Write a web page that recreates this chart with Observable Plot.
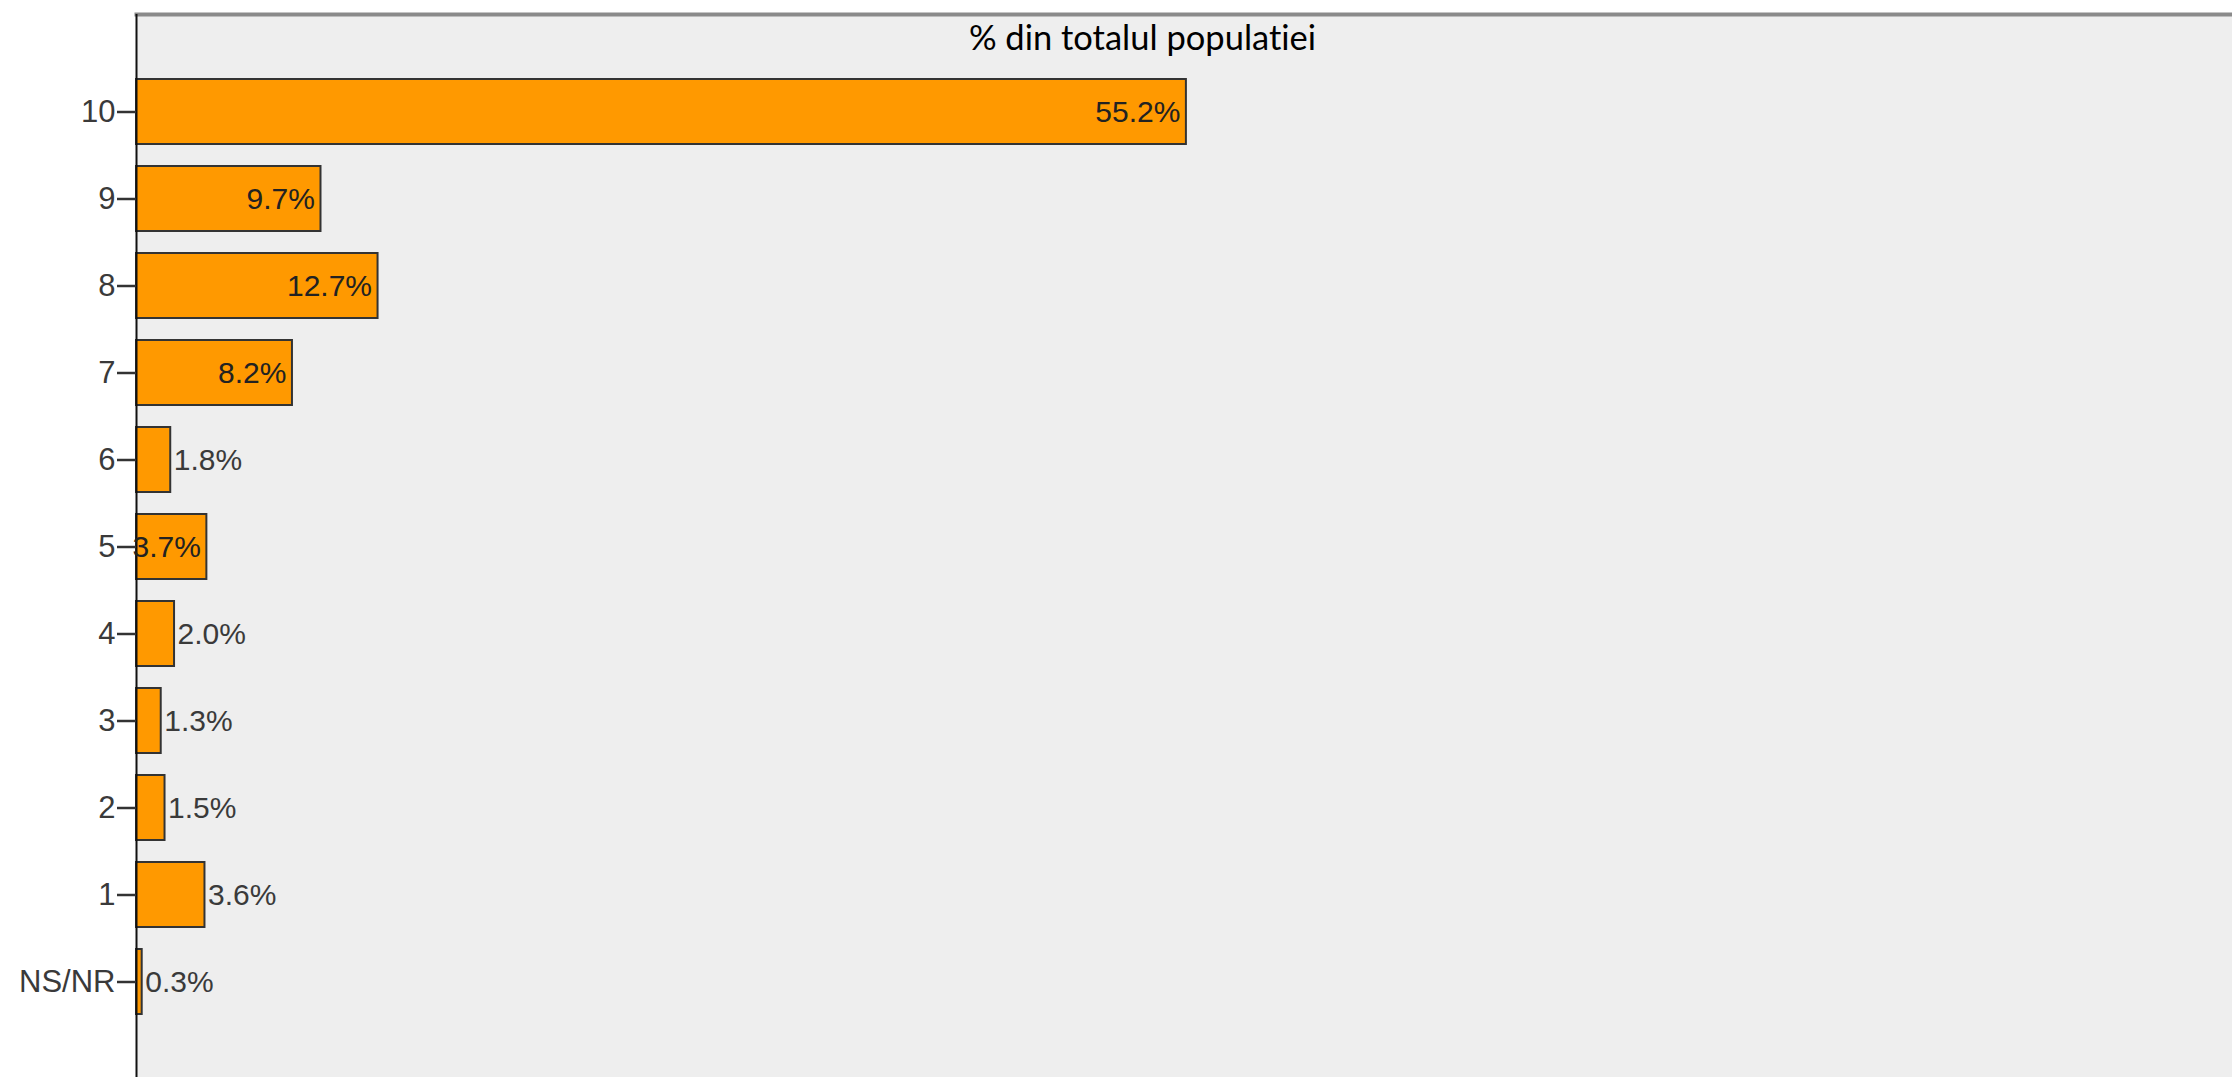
<!DOCTYPE html>
<html>
<head>
<meta charset="utf-8">
<script src="https://cdn.jsdelivr.net/npm/d3@7"></script>
<script src="https://cdn.jsdelivr.net/npm/@observablehq/plot@0.6"></script>
<style>
  html, body { margin: 0; padding: 0; background: #ffffff; }
  #chart svg { display: block; font-variant-ligatures: none; }
</style>
</head>
<body>
<div id="chart"></div>
<script>
// Categories (top to bottom) and their percentages
const categories = ["10", "9", "8", "7", "6", "5", "4", "3", "2", "1", "NS/NR"];
const percents   = [55.2, 9.7, 12.7, 8.2, 1.8, 3.7, 2.0, 1.3, 1.5, 3.6, 0.3];
const valueLabels = ["55.2%", "9.7%", "12.7%", "8.2%", "1.8%", "3.7%", "2.0%", "1.3%", "1.5%", "3.6%", "0.3%"];
// which labels are drawn inside the bar end
const insideLabels = ["10", "9", "8", "7", "5"];
const title = "% din totalul populatiei";

const data = categories.map((c, i) => ({cat: c, pct: percents[i], label: valueLabels[i], inside: insideLabels.includes(c)}));

const chart = Plot.plot({
  width: 2232,
  height: 1077,
  marginLeft: 136,
  marginRight: 0,
  marginTop: 14,
  marginBottom: 0,
  style: {background: "#ffffff", fontFamily: "'Liberation Sans', Arial, sans-serif", overflow: "visible"},
  x: {domain: [0, 110.2], axis: null},
  y: {domain: categories, range: [66.9, 1026.6], paddingInner: 0.255, paddingOuter: 0.1275, label: null, axis: null},
  marks: [
    Plot.frame({fill: "#eeeeee", stroke: "none"}),
    Plot.frame({anchor: "top", stroke: "#8a8a8a", strokeWidth: 4}),
    Plot.barX(data, {x: "pct", y: "cat", fill: "#ff9900", stroke: "#333333", strokeWidth: 2}),
    Plot.ruleX([0], {stroke: "#111111", strokeWidth: 2}),
    Plot.axisY({tickSize: 19, tickPadding: 2, fontSize: 31, fill: "#3a3a3a", stroke: "#333333", strokeWidth: 2.5, tickFormat: d => d}),
    Plot.text(data.filter(d => d.inside), {x: "pct", y: "cat", text: "label", textAnchor: "end", dx: -6, fontSize: 30, fill: "#222222"}),
    Plot.text(data.filter(d => !d.inside), {x: "pct", y: "cat", text: "label", textAnchor: "start", dx: 3, fontSize: 30, fill: "#3a3a3a"}),
    Plot.text([title], {frameAnchor: "top", lineAnchor: "top", dx: -42, dy: 11, fontSize: 34.5, fill: "#000000", fontFamily: "Lato, 'Open Sans', sans-serif"})
  ]
});
document.getElementById("chart").appendChild(chart);
</script>
</body>
</html>
